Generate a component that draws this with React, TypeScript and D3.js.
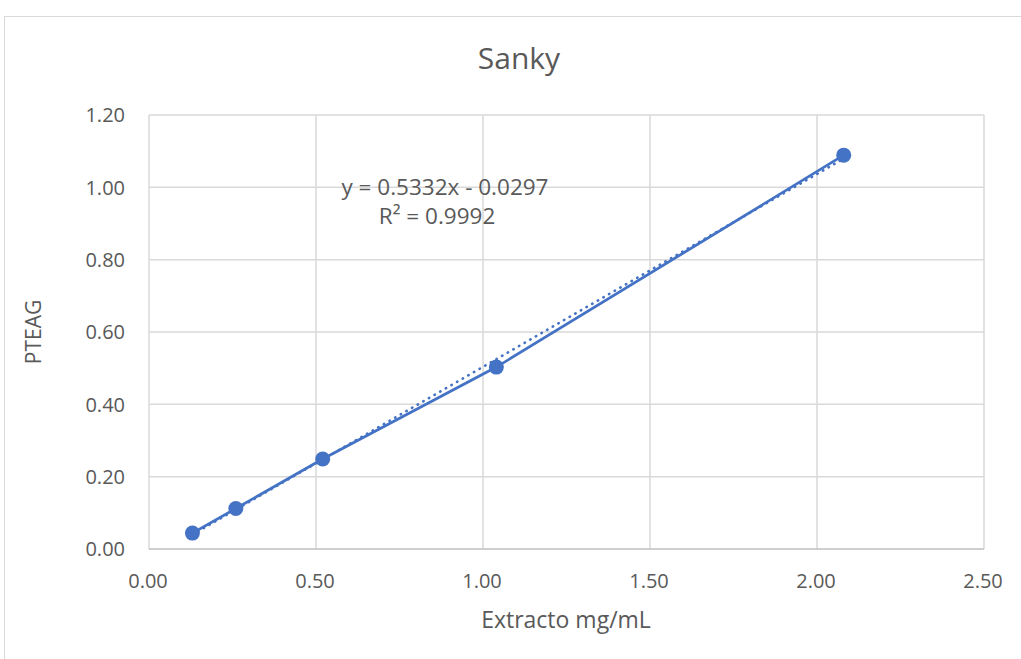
import React, { useEffect, useRef } from 'react';
import * as d3 from 'd3';

const concentrations = [0.13, 0.26, 0.52, 1.04, 2.08];
const absorbances = [0.044, 0.112, 0.249, 0.503, 1.089];
const xTicks = [0, 0.5, 1, 1.5, 2, 2.5];
const yTicks = [0, 0.2, 0.4, 0.6, 0.8, 1.0, 1.2];
const slope = 0.5332;
const intercept = -0.0297;
const equationLabel = 'y = 0.5332x - 0.0297';
const r2Label = 'R² = 0.9992';

const FONT = "'Open Sans', 'Liberation Sans', sans-serif";
const BLUE = '#4472C4';
const TEXT = '#595959';

const App: React.FC = () => {
  const svgRef = useRef<SVGSVGElement>(null);

  useEffect(() => {
    if (!svgRef.current) return;
    const svg = d3.select(svgRef.current);
    svg.selectAll('*').remove();

    const x = d3.scaleLinear().domain([0, 2.5]).range([149, 984]);
    const y = d3.scaleLinear().domain([0, 1.2]).range([549, 115]);

    // chart frame
    svg
      .append('rect')
      .attr('x', 4.5)
      .attr('y', 16.5)
      .attr('width', 1030)
      .attr('height', 660)
      .attr('fill', '#fff')
      .attr('stroke', '#d9d9d9')
      .attr('stroke-width', 1);

    // gridlines
    const grid = svg.append('g');
    grid
      .selectAll('line.h')
      .data(yTicks.slice(1))
      .join('line')
      .attr('x1', x(0))
      .attr('x2', x(2.5))
      .attr('y1', (d) => y(d))
      .attr('y2', (d) => y(d))
      .attr('stroke', '#d9d9d9')
      .attr('stroke-width', 1.5);
    grid
      .selectAll('line.v')
      .data(xTicks)
      .join('line')
      .attr('x1', (d) => x(d))
      .attr('x2', (d) => x(d))
      .attr('y1', y(0))
      .attr('y2', y(1.2))
      .attr('stroke', '#d9d9d9')
      .attr('stroke-width', 1.5);
    // bottom axis line
    svg
      .append('line')
      .attr('x1', x(0))
      .attr('x2', x(2.5))
      .attr('y1', y(0))
      .attr('y2', y(0))
      .attr('stroke', '#bfbfbf')
      .attr('stroke-width', 1.5);

    // tick labels
    svg
      .append('g')
      .selectAll('text')
      .data(yTicks)
      .join('text')
      .attr('x', x(0) - 24)
      .attr('y', (d) => y(d))
      .attr('dy', '0.36em')
      .attr('text-anchor', 'end')
      .attr('font-family', FONT)
      .attr('font-size', 20)
      .attr('fill', TEXT)
      .text((d) => d.toFixed(2));
    svg
      .append('g')
      .selectAll('text')
      .data(xTicks)
      .join('text')
      .attr('x', (d) => x(d) - 1)
      .attr('y', y(0) + 39)
      .attr('text-anchor', 'middle')
      .attr('font-family', FONT)
      .attr('font-size', 20)
      .attr('fill', TEXT)
      .text((d) => d.toFixed(2));

    // titles
    svg
      .append('text')
      .attr('x', 519)
      .attr('y', 69)
      .attr('text-anchor', 'middle')
      .attr('font-family', FONT)
      .attr('font-size', 30)
      .attr('fill', TEXT)
      .text('Sanky');
    svg
      .append('text')
      .attr('x', 566)
      .attr('y', 628)
      .attr('text-anchor', 'middle')
      .attr('font-family', FONT)
      .attr('font-size', 23)
      .attr('fill', TEXT)
      .text('Extracto mg/mL');
    svg
      .append('text')
      .attr('transform', `translate(41, 332) rotate(-90)`)
      .attr('text-anchor', 'middle')
      .attr('font-family', FONT)
      .attr('font-size', 21)
      .attr('fill', TEXT)
      .text('PTEAG');

    // trendline (linear)
    const [xMin, xMax] = d3.extent(concentrations) as [number, number];
    const trend = d3.range(0, 101).map((i) => xMin + ((xMax - xMin) * i) / 100);
    svg
      .append('path')
      .datum(trend)
      .attr('fill', 'none')
      .attr('stroke', BLUE)
      .attr('stroke-width', 2.5)
      .attr('stroke-linecap', 'round')
      .attr('stroke-dasharray', '0.5,6')
      .attr(
        'd',
        d3
          .line<number>()
          .x((d) => x(d))
          .y((d) => y(slope * d + intercept))
      );

    // data line + markers
    const pts = concentrations.map((c, i) => [c, absorbances[i]] as [number, number]);
    svg
      .append('path')
      .datum(pts)
      .attr('fill', 'none')
      .attr('stroke', BLUE)
      .attr('stroke-width', 2.75)
      .attr(
        'd',
        d3
          .line<[number, number]>()
          .x((d) => x(d[0]))
          .y((d) => y(d[1]))
      );
    svg
      .append('g')
      .selectAll('circle')
      .data(pts)
      .join('circle')
      .attr('cx', (d) => x(d[0]))
      .attr('cy', (d) => y(d[1]))
      .attr('r', 7.5)
      .attr('fill', BLUE);

    // equation label
    svg
      .append('text')
      .attr('x', 445)
      .attr('y', 195)
      .attr('text-anchor', 'middle')
      .attr('font-family', FONT)
      .attr('font-size', 22.5)
      .attr('fill', TEXT)
      .text(equationLabel);
    svg
      .append('text')
      .attr('x', 437)
      .attr('y', 224)
      .attr('text-anchor', 'middle')
      .attr('font-family', FONT)
      .attr('font-size', 22.5)
      .attr('fill', TEXT)
      .text(r2Label);
  }, []);

  return (
    <svg
      ref={svgRef}
      width={1021}
      height={659}
      style={{ position: 'absolute', left: 0, top: 0, display: 'block', background: '#fff' }}
    />
  );
};

export default App;
